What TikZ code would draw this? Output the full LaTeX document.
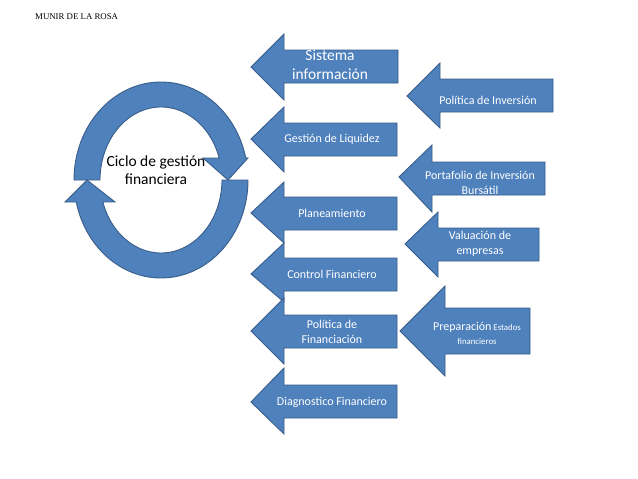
\documentclass[tikz,border=0pt]{standalone}
\usepackage{fontspec}
\usetikzlibrary{calc}
\setmainfont{Carlito}
\newfontfamily\hdrfont{Liberation Serif}
\definecolor{blfill}{HTML}{4F81BD}
\definecolor{bldraw}{HTML}{385D8A}
\newcommand{\blockarrow}[8]{\path[blk] (#1,#2) -- (#3,#4) -- (#3,#6) -- (#8,#6) -- (#8,#7) -- (#3,#7) -- (#3,#5) -- cycle;}
\begin{document}
\begin{tikzpicture}[x=1pt,y=-1pt,
  blk/.style={fill=blfill,draw=bldraw,line width=0.9pt,line join=miter},
  wtxt/.style={text=white,align=center,inner sep=0pt,font=\fontsize{12}{14.5}\selectfont},
  btxt/.style={text=black,align=center,inner sep=0pt,font=\fontsize{15.5}{18.5}\selectfont}]
\useasboundingbox (0,0) rectangle (638,479);
\fill[white] (0,0) rectangle (638,479);
\node[anchor=west,inner sep=0pt,font=\hdrfont\fontsize{8.8}{10}\selectfont] (hdr) at (35,17) {MUNIR DE LA ROSA};
% circular arrows
\coordinate (c) at (161,180);
\path[blk] (c) ++(0:87 and 98) arc[start angle=0,end angle=167,x radius=87,y radius=98]
  -- (65,202) -- (87,180) -- (115,202)
  -- ($(c)+(162.5:61 and 73)$) arc[start angle=162.5,end angle=0,x radius=61,y radius=73] -- cycle;
\path[blk] (c) ++(180:87 and 98) arc[start angle=180,end angle=347,x radius=87,y radius=98]
  -- (248,158) -- (228,180) -- (203,158)
  -- ($(c)+(342.5:61 and 73)$) arc[start angle=342.5,end angle=180,x radius=61,y radius=73] -- cycle;
\node[btxt] (ciclo) at (156,170) {Ciclo de gestión\\financiera};
% left column
\blockarrow{251}{67}{284}{34}{100}{50}{83}{398}
\blockarrow{251}{139}{284}{107}{172}{123}{156}{397}
\blockarrow{251}{213}{284}{182}{243}{197}{230}{397}
\blockarrow{251}{274}{284}{243}{302}{258}{291}{397}
\blockarrow{251}{331}{284}{298}{364}{315}{348}{397}
\blockarrow{251}{402}{284}{368}{434}{385}{418}{397}
% right column
\blockarrow{407}{96}{440}{63}{128}{79}{112}{553}
\blockarrow{399}{177}{432}{145}{212}{162}{195}{545}
\blockarrow{405}{244}{438}{212}{277}{228}{261}{539}
\blockarrow{400}{331}{445}{286}{376}{308}{354}{530}
% texts
\node[wtxt,font=\fontsize{15.5}{19}\selectfont] (sis) at (330,65) {Sistema\\información};
\node[wtxt] (liq) at (332,139) {Gestión de Liquidez};
\node[wtxt] (plan) at (332,213) {Planeamiento};
\node[wtxt] (ctrl) at (332,274) {Control Financiero};
\node[wtxt] (pfin) at (332,332) {Política de\\Financiación};
\node[wtxt] (diag) at (332,402) {Diagnostico Financiero};
\node[wtxt] (pinv) at (488,100) {Política de Inversión};
\node[wtxt] (port) at (480,183) {Portafolio de Inversión\\Bursátil};
\node[wtxt] (val) at (480,244) {Valuación de\\empresas};
\node[wtxt,font=\fontsize{8.8}{14}\selectfont] (prep) at (477,333) {{\fontsize{12}{14}\selectfont Preparación} Estados\\financieros};
\end{tikzpicture}
\end{document}
